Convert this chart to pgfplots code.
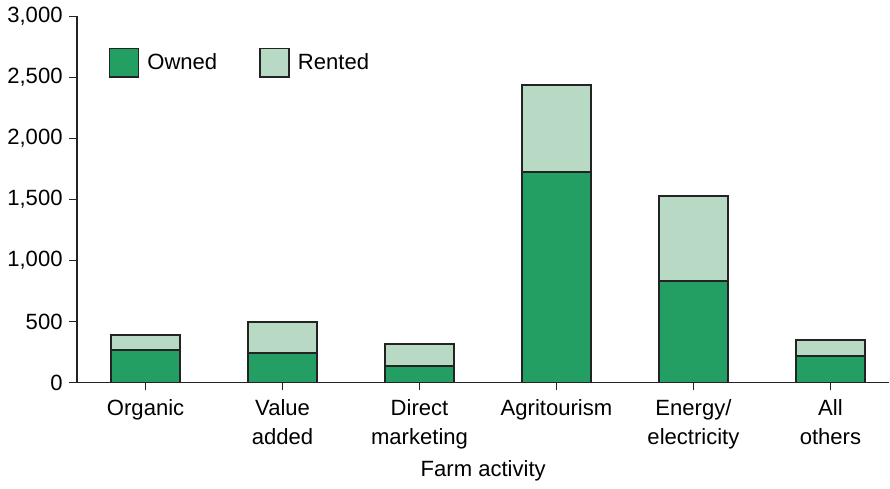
\documentclass[border=0pt]{standalone}
\usepackage{pgfplots}
\pgfplotsset{compat=1.18}
\usepackage{fontspec}
\setmainfont{Liberation Sans}
\definecolor{owned}{RGB}{36,159,99}
\definecolor{rented}{RGB}{184,218,196}
\definecolor{edge}{RGB}{35,35,35}
\begin{document}
\fontsize{22}{25}\selectfont
\begin{tikzpicture}
\begin{axis}[
  scale only axis,
  width=810pt, height=365pt,
  ybar stacked, bar width=69pt,
  xmin=-0.5, xmax=5.43,
  ymin=0, ymax=3000,
  ytick={0,500,1000,1500,2000,2500,3000},
  xtick=data,
  xticklabels={Organic, Value\\added, Direct\\marketing, Agritourism, Energy/\\electricity, All\\others},
  xticklabel style={align=center, font=\fontsize{22}{29}\selectfont, yshift=-1pt},
  yticklabel style={font=\fontsize{22}{25}\selectfont, xshift=1pt},
  /pgf/number format/.cd, 1000 sep={,}, assume math mode=true,
  /pgfplots/.cd,
  scaled y ticks=false,
  axis x line*=bottom, axis y line*=left,
  axis line style={edge, line width=1.4pt, -},
  tick style={edge, line width=1.2pt},
  major tick length=8pt,
  xtick align=outside, ytick align=outside,
  xlabel={Farm activity},
  xlabel style={font=\fontsize{22}{25}\selectfont, yshift=3pt},
  legend style={draw=none, fill=none, at={(0.035,0.92)}, anchor=north west,
    legend columns=2, font=\fontsize{22}{25}\selectfont,
    /tikz/every odd column/.append style={column sep=6pt},
    /tikz/every even column/.append style={column sep=40pt}},
  legend image code/.code={\draw[#1, line width=1.5pt] (0pt,-14pt) rectangle (29pt,14pt);},
]
\addplot+[fill=owned, draw=edge, line width=1.8pt] coordinates {
  (0,269)(1,244)(2,137)(3,1724)(4,830)(5,217)};
\addplot+[fill=rented, draw=edge, line width=1.8pt] coordinates {
  (0,119)(1,253)(2,176)(3,712)(4,699)(5,134)};
\legend{Owned, Rented}
\end{axis}
\end{tikzpicture}
\end{document}
